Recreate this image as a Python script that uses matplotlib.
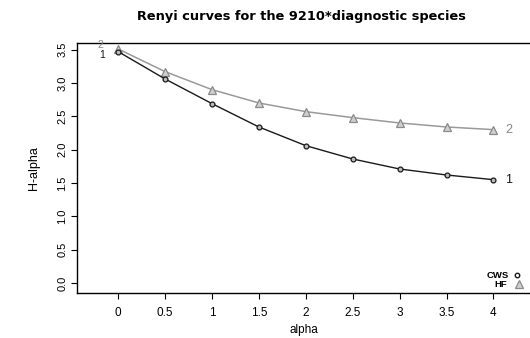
import matplotlib
matplotlib.use("Agg")
import matplotlib.pyplot as plt

alpha = [0, 0.5, 1, 1.5, 2, 2.5, 3, 3.5, 4]
cws = [3.47, 3.06, 2.69, 2.34, 2.06, 1.86, 1.71, 1.62, 1.55]
hf = [3.51, 3.17, 2.90, 2.70, 2.57, 2.48, 2.40, 2.34, 2.30]
xticks = [0, 0.5, 1, 1.5, 2, 2.5, 3, 3.5, 4]
xticklabels = ["0", "0.5", "1", "1.5", "2", "2.5", "3", "3.5", "4"]
yticks = [0.0, 0.5, 1.0, 1.5, 2.0, 2.5, 3.0, 3.5]

plt.rcParams["font.family"] = ["Liberation Sans", "DejaVu Sans"]

fig = plt.figure(figsize=(5.3, 3.38), dpi=100)
ax = fig.add_axes([0.145, 0.133, 0.855, 0.74])

ax.plot(alpha, hf, color="#9a9a9a", lw=1.1, marker="^", ms=5.5,
        mfc="#cfcfcf", mec="#8a8a8a", mew=0.9)
ax.plot(alpha, cws, color="#1a1a1a", lw=1.0, marker="o", ms=3.5,
        mfc="#bdbdbd", mec="#1a1a1a", mew=0.9)

# curve numbers at both ends
ax.text(alpha[0] - 0.19, hf[0] + 0.06, "2", color="#888888", fontsize=7.5,
        ha="center", va="center")
ax.text(alpha[0] - 0.17, cws[0] - 0.05, "1", color="#1a1a1a", fontsize=7.5,
        ha="center", va="center")
ax.text(alpha[-1] + 0.16, hf[-1], "2", color="#888888", fontsize=9,
        ha="center", va="center")
ax.text(alpha[-1] + 0.16, cws[-1], "1", color="#1a1a1a", fontsize=9,
        ha="center", va="center")

# legend in the corner
ax.text(4.17, 0.12, "CWS", fontsize=6.8, fontweight="bold", ha="right", va="center")
ax.text(4.15, -0.02, "HF", fontsize=6.8, fontweight="bold", ha="right", va="center")
ax.plot([4.25], [0.12], marker="o", ms=3.2, mfc="white", mec="#1a1a1a", mew=1.0,
        clip_on=False)
ax.plot([4.27], [-0.01], marker="^", ms=5.5, mfc="#cfcfcf", mec="#8a8a8a", mew=0.9,
        clip_on=False)

ax.set_xlim(-0.44, 4.39)
ax.set_ylim(-0.15, 3.6)
ax.set_xticks(xticks)
ax.set_xticklabels(xticklabels, fontsize=8.5)
ax.set_yticks(yticks)
ax.set_yticklabels([f"{v:.1f}" for v in yticks], fontsize=8, rotation=90,
                   va="center")
ax.tick_params(axis="x", length=4, width=0.8, pad=6)
ax.tick_params(axis="y", length=4, width=0.8, pad=3)
ax.spines["right"].set_visible(False)
for s in ["left", "top", "bottom"]:
    ax.spines[s].set_linewidth(1.0)

ax.set_xlabel("alpha", fontsize=8.5, labelpad=4)
ax.set_ylabel("H-alpha", fontsize=9, labelpad=12)
fig.text(0.568, 0.95, "Renyi curves for the 9210*diagnostic species",
         fontsize=9.3, fontweight="bold", ha="center", va="center",
         family=["DejaVu Sans"])

fig.savefig("out.png", dpi=100)
